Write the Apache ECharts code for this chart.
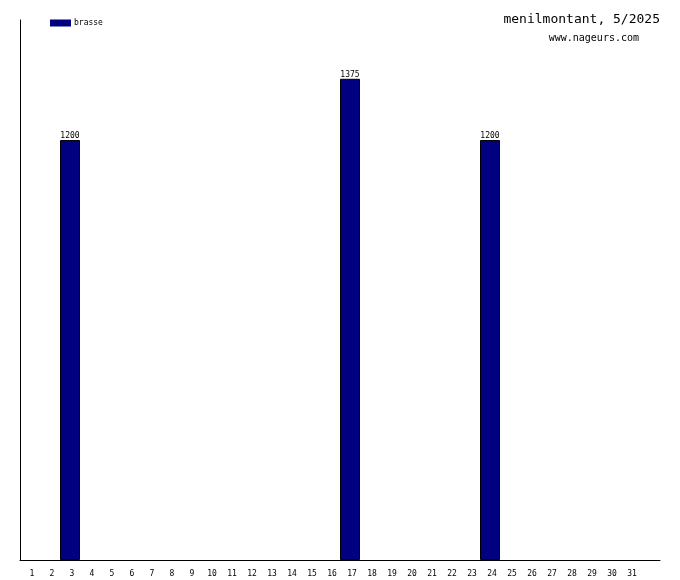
<!DOCTYPE html>
<html><head><meta charset="utf-8">
<script src="https://cdn.jsdelivr.net/npm/echarts@6/dist/echarts.min.js"></script>
<style>html,body{margin:0;padding:0;background:#fff}#c{width:680px;height:580px}</style>
</head><body><div id="c"></div>
<script>
var days = ['1','2','3','4','5','6','7','8','9','10','11','12','13','14','15','16','17','18','19','20','21','22','23','24','25','26','27','28','29','30','31',''];
var brasse = [null,null,1200,null,null,null,null,null,null,null,null,null,null,null,null,null,1375,null,null,null,null,null,null,1200,null,null,null,null,null,null,null,null];
var chart = echarts.init(document.getElementById('c'));
var mono = 'DejaVu Sans Mono';
chart.setOption({
  animation:false,
  backgroundColor:'#fff',
  title:[
    {text:'menilmontant, 5/2025', right:15, top:8, textStyle:{fontFamily:mono, fontSize:13, fontWeight:'normal', color:'#000'}},
    {text:'www.nageurs.com', right:36, top:28, textStyle:{fontFamily:mono, fontSize:10, fontWeight:'normal', color:'#000'}}
  ],
  legend:{left:50, top:19, padding:0, itemWidth:21, itemHeight:7, itemGap:4, textStyle:{fontFamily:mono, fontSize:8, color:'#000', padding:[0,0,0,-2]}, data:[{name:'brasse', icon:'rect', itemStyle:{borderWidth:0}}]},
  grid:{left:20, right:20, top:20, bottom:20},
  xAxis:{type:'category', data:days, axisTick:{show:false}, axisLine:{lineStyle:{color:'#000', width:1}},
    axisLabel:{fontFamily:mono, fontSize:8, color:'#000', margin:10, interval:0, padding:[0,0,0,4]}},
  yAxis:{type:'value', min:0, max:1543, axisLine:{show:true, lineStyle:{color:'#000'}}, axisLabel:{show:false}, axisTick:{show:false}, splitLine:{show:false}},
  series:[{name:'brasse', type:'bar', data:brasse, barWidth:'100%', barCategoryGap:0,
    itemStyle:{color:'#000080', borderColor:'#000', borderWidth:1},
    label:{show:true, position:'top', distance:0, fontFamily:mono, fontSize:8, color:'#000'}}]
});
</script></body></html>
